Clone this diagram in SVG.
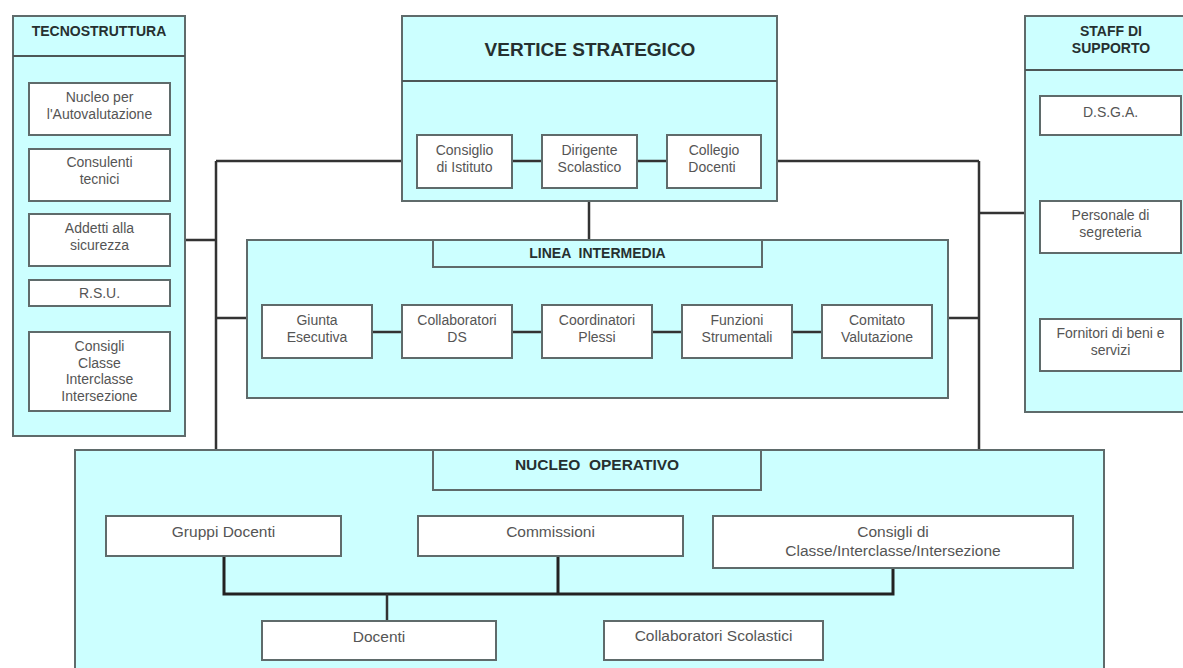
<svg xmlns="http://www.w3.org/2000/svg" width="1183" height="668" viewBox="0 0 1183 668">
<style>
.cont{fill:#ccffff;stroke:#5f6b6b;stroke-width:2}
.box{fill:#ffffff;stroke:#5f6b6b;stroke-width:2}
.hdr{fill:#ccffff;stroke:#5f6b6b;stroke-width:2}
.sep{stroke:#4d5757;stroke-width:2}
.t{font-family:"Liberation Sans",Arial,sans-serif;font-size:14px;fill:#555;text-anchor:middle}
.tb{font-family:"Liberation Sans",Arial,sans-serif;font-size:15.5px;fill:#555;text-anchor:middle}
.h{font-family:"Liberation Sans",Arial,sans-serif;font-weight:bold;font-size:14px;fill:#263030;text-anchor:middle}
.conn{fill:none;stroke:#333;stroke-width:2.5}
.conn2{fill:none;stroke:#222;stroke-width:3}
</style>
<rect width="1183" height="668" fill="#ffffff"/>
<g id="tecnostruttura">
<rect class="cont" x="13" y="16" width="172" height="420"/>
<line class="sep" x1="13" y1="56" x2="185" y2="56"/>
<text class="h" x="99" y="36">TECNOSTRUTTURA</text>
</g>
<g id="nucleo-autovalutazione">
<rect class="box" x="29" y="83" width="141" height="52"/>
<text class="t" x="99.5" y="102">Nucleo per</text>
<text class="t" x="99.5" y="119">l'Autovalutazione</text>
</g>
<g id="consulenti">
<rect class="box" x="29" y="149" width="141" height="52"/>
<text class="t" x="99.5" y="167">Consulenti</text>
<text class="t" x="99.5" y="184">tecnici</text>
</g>
<g id="addetti">
<rect class="box" x="29" y="214" width="141" height="52"/>
<text class="t" x="99.5" y="233">Addetti alla</text>
<text class="t" x="99.5" y="250">sicurezza</text>
</g>
<g id="rsu">
<rect class="box" x="29" y="280" width="141" height="26"/>
<text class="t" x="99.5" y="298">R.S.U.</text>
</g>
<g id="consigli-tecno">
<rect class="box" x="29" y="332" width="141" height="79"/>
<text class="t" x="99.5" y="351">Consigli</text>
<text class="t" x="99.5" y="368">Classe</text>
<text class="t" x="99.5" y="384">Interclasse</text>
<text class="t" x="99.5" y="401">Intersezione</text>
</g>
<g id="vertice">
<rect class="cont" x="402" y="16" width="375" height="185"/>
<line class="sep" x1="402" y1="81" x2="777" y2="81"/>
<text class="h" x="590" y="56" style="font-size:19px">VERTICE STRATEGICO</text>
</g>
<g id="consiglio-istituto">
<rect class="box" x="417" y="135" width="95" height="53"/>
<text class="t" x="464.5" y="155">Consiglio</text>
<text class="t" x="464.5" y="172">di Istituto</text>
</g>
<g id="dirigente">
<rect class="box" x="542" y="135" width="95" height="53"/>
<text class="t" x="589.5" y="155">Dirigente</text>
<text class="t" x="589.5" y="172">Scolastico</text>
</g>
<g id="collegio">
<rect class="box" x="667" y="135" width="94" height="53"/>
<text class="t" x="714" y="155">Collegio</text>
<text class="t" x="712" y="172">Docenti</text>
</g>
<g id="staff">
<rect class="cont" x="1025" y="16" width="170" height="396"/>
<line class="sep" x1="1025" y1="70" x2="1195" y2="70"/>
<text class="h" x="1111" y="36">STAFF DI</text>
<text class="h" x="1111" y="53">SUPPORTO</text>
</g>
<g id="dsga">
<rect class="box" x="1040" y="96" width="141" height="39"/>
<text class="t" x="1110.5" y="117">D.S.G.A.</text>
</g>
<g id="personale">
<rect class="box" x="1040" y="201" width="141" height="52"/>
<text class="t" x="1110.5" y="220">Personale di</text>
<text class="t" x="1110.5" y="237">segreteria</text>
</g>
<g id="fornitori">
<rect class="box" x="1040" y="319" width="141" height="52"/>
<text class="t" x="1110.5" y="338">Fornitori di beni e</text>
<text class="t" x="1110.5" y="355">servizi</text>
</g>
<g id="linea">
<rect class="cont" x="247" y="240" width="701" height="158"/>
<rect class="hdr" x="433" y="240" width="329" height="27"/>
<text class="h" x="597.5" y="258" xml:space="preserve">LINEA  INTERMEDIA</text>
</g>
<g id="giunta">
<rect class="box" x="262" y="305" width="110" height="53"/>
<text class="t" x="317" y="325">Giunta</text>
<text class="t" x="317" y="342">Esecutiva</text>
</g>
<g id="collaboratori-ds">
<rect class="box" x="402" y="305" width="110" height="53"/>
<text class="t" x="457" y="325">Collaboratori</text>
<text class="t" x="457" y="342">DS</text>
</g>
<g id="coordinatori">
<rect class="box" x="542" y="305" width="110" height="53"/>
<text class="t" x="597" y="325">Coordinatori</text>
<text class="t" x="597" y="342">Plessi</text>
</g>
<g id="funzioni">
<rect class="box" x="682" y="305" width="110" height="53"/>
<text class="t" x="737" y="325">Funzioni</text>
<text class="t" x="737" y="342">Strumentali</text>
</g>
<g id="comitato">
<rect class="box" x="822" y="305" width="110" height="53"/>
<text class="t" x="877" y="325">Comitato</text>
<text class="t" x="877" y="342">Valutazione</text>
</g>
<g id="nucleo-operativo">
<rect class="cont" x="75" y="450" width="1029" height="240"/>
<rect class="hdr" x="433" y="450" width="328" height="40"/>
<text class="h" x="597" y="470" style="font-size:15.5px" xml:space="preserve">NUCLEO  OPERATIVO</text>
</g>
<g id="gruppi-docenti">
<rect class="box" x="106" y="516" width="235" height="40"/>
<text class="tb" x="223.5" y="537">Gruppi Docenti</text>
</g>
<g id="commissioni">
<rect class="box" x="418" y="516" width="265" height="40"/>
<text class="tb" x="550.5" y="537">Commissioni</text>
</g>
<g id="consigli-classe">
<rect class="box" x="713" y="516" width="360" height="52"/>
<text class="tb" x="893" y="537">Consigli di</text>
<text class="tb" x="893" y="556">Classe/Interclasse/Intersezione</text>
</g>
<g id="docenti">
<rect class="box" x="262" y="621" width="234" height="39"/>
<text class="tb" x="379" y="642">Docenti</text>
</g>
<g id="collaboratori-scolastici">
<rect class="box" x="604" y="621" width="219" height="39"/>
<text class="tb" x="713.5" y="641">Collaboratori Scolastici</text>
</g>
<g id="connectors">
<path class="conn" d="M216 161V449M216 161H401M186 240H216M216 318H246"/>
<path class="conn" d="M979 161V449M778 161H979M979 213H1024M949 318H979"/>
<path class="conn" d="M589 202V239"/>
<path class="conn" d="M513 161H541M638 161H666"/>
<path class="conn" d="M373 332H401M513 332H541M653 332H681M793 332H821"/>
<path class="conn2" d="M224 557V594H893V569M558 557V594"/>
<path class="conn" d="M387 594V620"/>
</g>
</svg>
